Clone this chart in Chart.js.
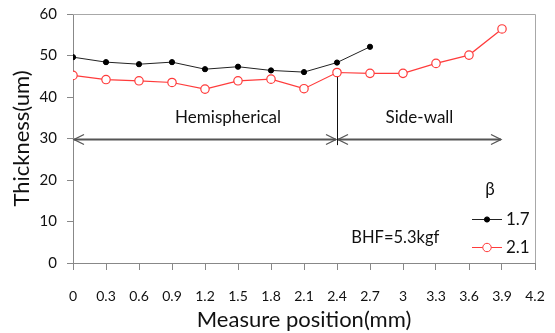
<!DOCTYPE html>
<html>
<head>
<meta charset="utf-8">
<script src="https://cdn.jsdelivr.net/npm/chart.js@4.4.1/dist/chart.umd.min.js"></script>
<style>
  html, body { margin: 0; padding: 0; background: #fff; }
  #wrap { width: 555px; height: 333px; position: relative; }
</style>
</head>
<body>
<div id="wrap"><canvas id="c" width="555" height="333"></canvas></div>
<script>
// datos
const posA = [0, 0.3, 0.6, 0.9, 1.2, 1.5, 1.8, 2.1, 2.4, 2.7];
const beta17 = [49.6, 48.4, 47.9, 48.4, 46.7, 47.3, 46.4, 46.0, 48.3, 52.1];
const posB = [0, 0.3, 0.6, 0.9, 1.2, 1.5, 1.8, 2.1, 2.4, 2.7, 3.0, 3.3, 3.6, 3.9];
const beta21 = [45.2, 44.2, 43.9, 43.5, 41.9, 43.9, 44.3, 42.0, 45.9, 45.7, 45.7, 48.1, 50.1, 56.4];

const seriesNames = ["1.7", "2.1"];
const legendTitle = "β";
const noteText = "BHF=5.3kgf";
const regionNames = ["Hemispherical", "Side-wall"];
// tramos de flechas (x inicio, x fin) a la altura arrowY
const regionSpans = [[0, 2.4], [2.4, 3.9]];
const regionLabelX = [1.41, 3.15];
const arrowY = 30;
const dividerX = 2.4;
const dividerYs = [44.8, 28.4];

const FONT = "Lato, 'Open Sans', sans-serif";
const TXT = "#111";

/* ------------------ plugin: marco, flechas, textos, leyenda ------------------ */
const extras = {
  id: "extras",
  afterDatasetsDraw(chart) {
    const { ctx, chartArea: a, scales: { x, y } } = chart;
    ctx.save();

    // marco superior y derecho
    ctx.strokeStyle = "#a8a8a8";
    ctx.lineWidth = 1;
    ctx.beginPath();
    ctx.moveTo(a.left, a.top + 0.5);
    ctx.lineTo(a.right + 0.5, a.top + 0.5);
    ctx.lineTo(a.right + 0.5, a.bottom);
    ctx.stroke();

    // flechas de regiones
    const py = Math.round(y.getPixelForValue(arrowY)) + 0.5;
    ctx.strokeStyle = "#555";
    regionSpans.forEach(([x0, x1]) => {
      const p0 = x.getPixelForValue(x0), p1 = x.getPixelForValue(x1);
      ctx.lineWidth = 2;
      ctx.beginPath();
      ctx.moveTo(p0 + 1, py); ctx.lineTo(p1 - 1, py);
      ctx.stroke();
      ctx.lineWidth = 1.3;
      ctx.beginPath();
      ctx.moveTo(p0 + 11, py - 5); ctx.lineTo(p0 + 1, py); ctx.lineTo(p0 + 11, py + 5);
      ctx.moveTo(p1 - 11, py - 5); ctx.lineTo(p1 - 1, py); ctx.lineTo(p1 - 11, py + 5);
      ctx.stroke();
    });

    // linea divisoria
    const dx = Math.round(x.getPixelForValue(dividerX)) + 0.5;
    ctx.strokeStyle = "#111";
    ctx.lineWidth = 1;
    ctx.beginPath();
    ctx.moveTo(dx, y.getPixelForValue(dividerYs[0]));
    ctx.lineTo(dx, y.getPixelForValue(dividerYs[1]));
    ctx.stroke();

    // textos de regiones
    ctx.fillStyle = TXT;
    ctx.textAlign = "center";
    ctx.textBaseline = "middle";
    ctx.font = "17px " + FONT;
    const ty = y.getPixelForValue(arrowY) - 21;
    regionNames.forEach((name, i) => {
      ctx.fillText(name, x.getPixelForValue(regionLabelX[i]), ty);
    });

    // nota BHF
    ctx.font = "16.5px " + FONT;
    ctx.fillText(noteText, x.getPixelForValue(2.93), y.getPixelForValue(6.1));

    // leyenda
    const lx0 = a.right - 63, lx1 = a.right - 33;
    ctx.font = "17px " + FONT;
    ctx.fillText(legendTitle, a.right - 45, a.bottom - 73);
    const rows = [a.bottom - 44, a.bottom - 16];
    ctx.textAlign = "left";
    chart.data.datasets.forEach((ds, i) => {
      const ly = rows[i];
      ctx.strokeStyle = ds.borderColor;
      ctx.lineWidth = 1;
      ctx.beginPath();
      ctx.moveTo(lx0, ly + 0.5); ctx.lineTo(lx1, ly + 0.5);
      ctx.stroke();
      ctx.beginPath();
      ctx.arc((lx0 + lx1) / 2, ly + 0.5, ds.pointRadius, 0, Math.PI * 2);
      ctx.fillStyle = ds.pointBackgroundColor;
      ctx.fill();
      ctx.strokeStyle = ds.pointBorderColor;
      ctx.stroke();
      ctx.fillStyle = TXT;
      ctx.fillText(seriesNames[i], lx1 + 4, ly + 1);
    });

    ctx.restore();
  }
};

/* ------------------ grafica ------------------ */
const ctx = document.getElementById("c").getContext("2d");
new Chart(ctx, {
  type: "line",
  data: {
    datasets: [
      {
        label: seriesNames[0],
        data: posA.map((p, i) => ({ x: p, y: beta17[i] })),
        borderColor: "#222",
        borderWidth: 1,
        pointRadius: 2.6,
        pointBackgroundColor: "#000",
        pointBorderColor: "#000",
        pointBorderWidth: 1,
        tension: 0
      },
      {
        label: seriesNames[1],
        data: posB.map((p, i) => ({ x: p, y: beta21[i] })),
        borderColor: "#ff3b3b",
        borderWidth: 1.2,
        pointRadius: 4.2,
        pointBackgroundColor: "#fff",
        pointBorderColor: "#ff3b3b",
        pointBorderWidth: 1.2,
        tension: 0
      }
    ]
  },
  options: {
    responsive: false,
    animation: false,
    layout: { padding: { top: 14, right: 20, left: 0, bottom: 0 } },
    plugins: { legend: { display: false }, tooltip: { enabled: false } },
    scales: {
      x: {
        type: "linear",
        min: 0, max: 4.2,
        afterFit(s) { s.height = 70; s.paddingLeft = 0; s.paddingRight = 0; },
        grid: { drawOnChartArea: false, drawTicks: true, tickLength: 7, color: "#888" },
        border: { color: "#888", width: 1 },
        ticks: {
          stepSize: 0.3,
          autoSkip: false,
          maxRotation: 0,
          padding: 18,
          color: TXT,
          font: { family: FONT, size: 14 },
          callback: v => String(Math.round(v * 10) / 10)
        },
        title: {
          display: true,
          text: "Measure position(mm)",
          color: TXT,
          font: { family: FONT, size: 22 },
          padding: { top: 0, bottom: 0 }
        }
      },
      y: {
        min: 0, max: 60,
        afterFit(s) { s.width = 73; s.paddingTop = 0; s.paddingBottom = 0; },
        grid: { drawOnChartArea: false, drawTicks: true, tickLength: 6, color: "#888" },
        border: { color: "#888", width: 1 },
        ticks: {
          stepSize: 10,
          padding: 10,
          color: TXT,
          font: { family: FONT, size: 15 }
        },
        title: {
          display: true,
          text: "Thickness(um)",
          color: TXT,
          font: { family: FONT, size: 22 },
          padding: { top: 9, bottom: 0 }
        }
      }
    }
  },
  plugins: [extras]
});
</script>
</body>
</html>
